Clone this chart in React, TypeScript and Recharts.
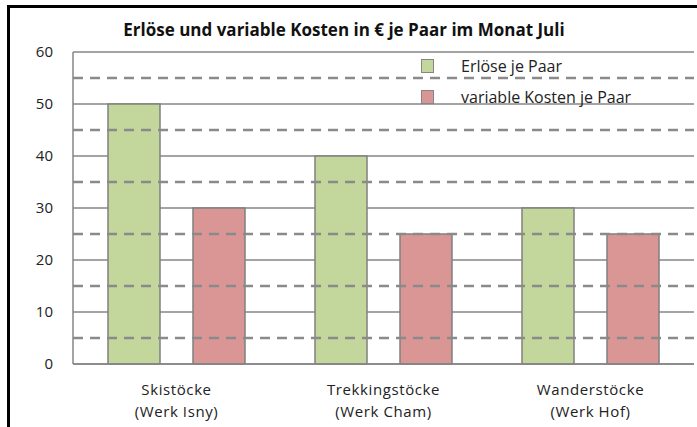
import { BarChart, Bar, XAxis, YAxis, CartesianGrid, Legend, ReferenceLine } from 'recharts';

const categories = ['Skistöcke', 'Trekkingstöcke', 'Wanderstöcke'];
const werke = ['(Werk Isny)', '(Werk Cham)', '(Werk Hof)'];
const erloese = [50, 40, 30];
const variableKosten = [30, 25, 25];
const yTicks = [0, 10, 20, 30, 40, 50, 60];
const halfTicks = [5, 15, 25, 35, 45, 55];

const data = categories.map((name, i) => ({
  name,
  werk: werke[i],
  erloese: erloese[i],
  kosten: variableKosten[i],
}));

const FONT = '"Open Sans", sans-serif';
const GRID = '#868686';

const CategoryTick = (props: any) => {
  const { x, y, payload, index } = props;
  return (
    <text x={x} y={y} textAnchor="middle" fontFamily={FONT} fontSize={15} fill="#222" letterSpacing={0.6}>
      <tspan x={x} dy={23}>{payload.value}</tspan>
      <tspan x={x} dy={22}>{werke[index]}</tspan>
    </text>
  );
};

const LegendBox = ({ payload }: any) => (
  <div style={{ fontFamily: FONT, fontSize: 16, color: '#222' }}>
    {payload.map((p: any) => (
      <div key={p.value} style={{ display: 'flex', alignItems: 'center', height: 31 }}>
        <span
          style={{
            display: 'inline-block',
            width: 13,
            height: 14,
            background: p.color,
            border: `1.5px solid ${GRID}`,
            boxSizing: 'border-box',
            marginRight: 27,
          }}
        />
        <span>{p.value}</span>
      </div>
    ))}
  </div>
);

const App = () => {
  return (
    <div style={{ position: 'fixed', left: 0, top: 0, width: 697, height: 427, background: '#fff', overflow: 'hidden' }}>
      <div
        style={{
          position: 'absolute',
          left: 7,
          top: 5,
          width: 700,
          height: 440,
          border: '3px solid #000',
          boxSizing: 'border-box',
        }}
      />
      <div
        style={{
          position: 'absolute',
          left: 0,
          top: 18,
          width: 688,
          textAlign: 'center',
          fontFamily: FONT,
          fontWeight: 700,
          fontSize: 17,
          color: '#111',
        }}
      >
        Erlöse und variable Kosten in € je Paar im Monat Juli
      </div>
      <div style={{ position: 'absolute', left: 0, top: 0 }}>
        <BarChart
          width={697}
          height={427}
          data={data}
          margin={{ top: 52, right: 3, bottom: 33, left: 0 }}
          barSize={52}
          barGap={33}
        >
          <CartesianGrid vertical={false} stroke={GRID} strokeWidth={1.5} />
          {halfTicks.map((v) => (
            <ReferenceLine key={v} y={v} stroke="#8a8a8a" strokeWidth={2.5} strokeDasharray="10 7" />
          ))}
          <XAxis
            dataKey="name"
            height={30}
            tick={<CategoryTick />}
            tickLine={false}
            axisLine={{ stroke: GRID, strokeWidth: 1.5 }}
            interval={0}
          />
          <YAxis
            domain={[0, 60]}
            ticks={yTicks}
            width={73}
            tickLine={false}
            tickSize={0}
            tickMargin={20}
            axisLine={{ stroke: GRID, strokeWidth: 1.5 }}
            tick={{ fontFamily: FONT, fontSize: 15, fill: '#222' }}
          />
          <YAxis
            yAxisId="right"
            orientation="right"
            domain={[0, 60]}
            width={0}
            tick={false}
            tickLine={false}
            axisLine={{ stroke: GRID, strokeWidth: 1.5 }}
          />
          <Legend
            layout="vertical"
            verticalAlign="middle"
            align="center"
            content={<LegendBox />}
            wrapperStyle={{ top: 50, left: 421, width: 270 }}
          />
          <Bar
            dataKey="erloese"
            name="Erlöse je Paar"
            fill="#c3d69b"
            stroke="#808080"
            strokeWidth={1.5}
            isAnimationActive={false}
          />
          <Bar
            dataKey="kosten"
            name="variable Kosten je Paar"
            fill="#d99694"
            stroke="#808080"
            strokeWidth={1.5}
            isAnimationActive={false}
          />
        </BarChart>
      </div>
    </div>
  );
};

export default App;
